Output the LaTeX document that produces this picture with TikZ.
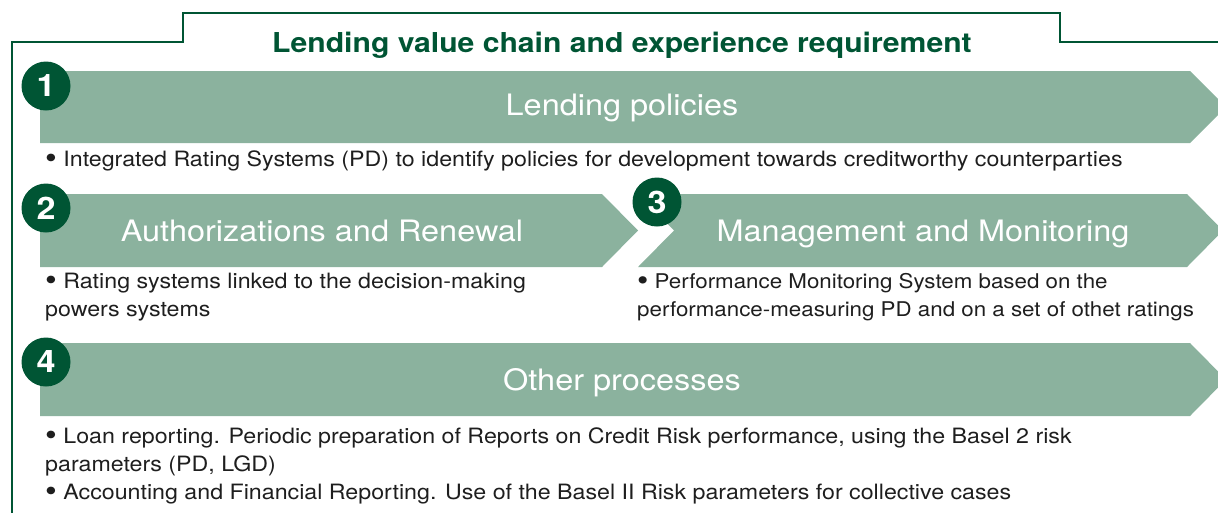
\documentclass[tikz,border=0pt]{standalone}
\usepackage{fontspec}
\setmainfont[FakeStretch=1.1]{TeX Gyre Heros}
\usepackage{tikz}
\usetikzlibrary{positioning}
\definecolor{darkgreen}{RGB}{0,85,52}
\definecolor{sage}{RGB}{139,178,158}
\definecolor{bodytext}{RGB}{30,30,30}
\newcommand{\bul}{\raisebox{-0.11em}{\scalebox{1.45}{\textbullet}}}

\tikzset{
	frame/.style = {draw=darkgreen, line width=1.6pt},
	chevron/.style = {fill=sage, draw=none},
	numdisc/.style = {circle, fill=darkgreen, text=white, minimum size=49pt, inner sep=0pt, font=\fontsize{31}{31}\selectfont\bfseries},
	steplabel/.style = {text=white, anchor=base, inner sep=0pt, font=\fontsize{29.5}{30}\selectfont},
	bodyline/.style = {text=bodytext, anchor=base west, inner sep=0pt, font=\fontsize{21.1}{25}\selectfont},
	narrowline/.style = {bodyline, font=\fontsize{20.3}{25}\selectfont},
}

\begin{document}
\begin{tikzpicture}[x=1pt, y=-1pt]
	\useasboundingbox (0,0) rectangle (1218,512);
	% outer frame, open at the right and bottom
	\draw[frame] (12,520) -- (12,42) -- (183,42) -- (183,13) -- (1060,13) -- (1060,42) -- (1225,42);
	\node[text=darkgreen, anchor=base, inner sep=0pt, font=\fontsize{27.4}{28}\selectfont\bfseries] (title) at (622,52) {Lending value chain and experience requirement};

	% chevrons
	\fill[chevron] (40,71) -- (1190,71) -- (1226,107) -- (1190,143) -- (40,143) -- cycle;
	\fill[chevron] (40,194) -- (602,194) -- (638,230.5) -- (602,267) -- (40,267) -- cycle;
	\fill[chevron] (638,194) -- (1187,194) -- (1223,230.5) -- (1187,267) -- (638,267) -- (674,230.5) -- cycle;
	\fill[chevron] (40,343) -- (1190,343) -- (1226,379.5) -- (1190,416) -- (40,416) -- cycle;

	% step titles
	\node[steplabel] (lab1) at (622,115) {Lending policies};
	\node[steplabel] (lab2) at (322,241) {Authorizations and Renewal};
	\node[steplabel] (lab3) at (923,241) {Management and Monitoring};
	\node[steplabel] (lab4) at (622,390) {Other processes};

	% numbers
	\node[numdisc] (n1) at (46,86) {1};
	\node[numdisc] (n2) at (46,208) {2};
	\node[numdisc] (n3) at (657,202) {3};
	\node[numdisc] (n4) at (46,362) {4};

	% descriptions
	\node[bodyline] (d1) at (45,166) {\bul\ Integrated Rating Systems (PD) to identify policies for development towards creditworthy counterparties};
	\node[bodyline] (d2a) at (45,288) {\bul\ Rating systems linked to the decision-making};
	\node[bodyline] (d2b) at (45,316) {powers systems};
	\node[narrowline] (d3a) at (637,288) {\bul\ Performance Monitoring System based on the};
	\node[narrowline] (d3b) at (637,316) {performance-measuring PD and on a set of othet ratings};
	\node[bodyline] (d4a) at (45,443) {\bul\ Loan reporting. Periodic preparation of Reports on Credit Risk performance, using the Basel 2 risk};
	\node[bodyline] (d4b) at (45,471) {parameters (PD, LGD)};
	\node[bodyline] (d4c) at (45,499) {\bul\ Accounting and Financial Reporting. Use of the Basel II Risk parameters for collective cases};
\end{tikzpicture}
\end{document}
